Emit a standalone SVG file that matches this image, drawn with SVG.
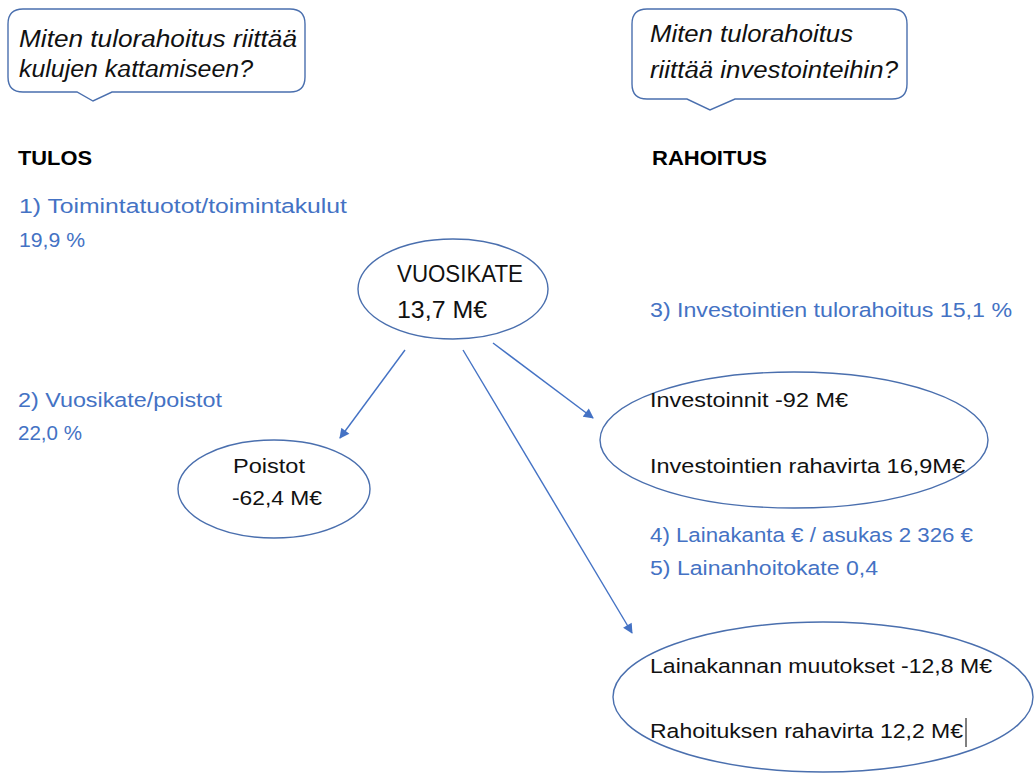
<svg xmlns="http://www.w3.org/2000/svg" width="1034" height="773" viewBox="0 0 1034 773">
<style>
text{font-family:"Liberation Sans",Arial,sans-serif;}
.c{font-size:23px;font-style:italic;fill:#111;}
.h{font-size:21px;font-weight:bold;fill:#000;}
.b{font-size:20.5px;fill:#4472C4;}
.t{font-size:20.5px;fill:#111;}
.big{font-size:24px;fill:#111;}
.sh{fill:#fff;stroke:#4a6fae;stroke-width:1.4;}
.ar{stroke:#4472C4;stroke-width:1.4;fill:none;marker-end:url(#ah);}
</style>
<defs>
<marker id="ah" viewBox="0 0 10 10" refX="9" refY="5" markerWidth="11" markerHeight="10" markerUnits="userSpaceOnUse" orient="auto">
<path d="M0,0 L10,5 L0,10 Z" fill="#4472C4"/>
</marker>
</defs>
<rect width="1034" height="773" fill="#fff"/>
<g id="callout1">
<path class="sh" d="M23,9 H290 Q305,9 305,24 V77 Q305,92 290,92 H112 L93,101 L77,92 H23 Q8,92 8,77 V24 Q8,9 23,9 Z"/>
<text class="c" x="19" y="47" textLength="278" lengthAdjust="spacingAndGlyphs">Miten tulorahoitus riittää</text>
<text class="c" x="19" y="77" textLength="234" lengthAdjust="spacingAndGlyphs">kulujen kattamiseen?</text>
</g>
<g id="callout2">
<path class="sh" d="M647,9 H892 Q907,9 907,24 V84 Q907,99 892,99 H735 L710,110 L687,99 H647 Q632,99 632,84 V24 Q632,9 647,9 Z"/>
<text class="c" x="650" y="42" textLength="203" lengthAdjust="spacingAndGlyphs">Miten tulorahoitus</text>
<text class="c" x="650" y="78" textLength="248" lengthAdjust="spacingAndGlyphs">riittää investointeihin?</text>
</g>
<g id="labels">
<text class="h" x="18" y="165" textLength="74" lengthAdjust="spacingAndGlyphs">TULOS</text>
<text class="h" x="652" y="165" textLength="115" lengthAdjust="spacingAndGlyphs">RAHOITUS</text>
<text class="b" x="19" y="213" textLength="328" lengthAdjust="spacingAndGlyphs">1) Toimintatuotot/toimintakulut</text>
<text class="b" x="19" y="247" textLength="66" lengthAdjust="spacingAndGlyphs">19,9 %</text>
<text class="b" x="18" y="407" textLength="204" lengthAdjust="spacingAndGlyphs">2) Vuosikate/poistot</text>
<text class="b" x="18" y="440" textLength="64" lengthAdjust="spacingAndGlyphs">22,0 %</text>
<text class="b" x="650" y="317" textLength="362" lengthAdjust="spacingAndGlyphs">3) Investointien tulorahoitus 15,1 %</text>
<text class="b" x="650" y="542" textLength="323" lengthAdjust="spacingAndGlyphs">4) Lainakanta € / asukas 2 326 €</text>
<text class="b" x="650" y="575" textLength="228" lengthAdjust="spacingAndGlyphs">5) Lainanhoitokate 0,4</text>
</g>
<g id="connectors">
<line class="ar" x1="405" y1="350" x2="340" y2="438"/>
<line class="ar" x1="463" y1="350" x2="632" y2="633"/>
<line class="ar" x1="493" y1="343" x2="593" y2="418"/>
</g>
<g id="vuosikate">
<ellipse class="sh" cx="453" cy="289" rx="95" ry="50"/>
<text class="big" x="397" y="282" textLength="126" lengthAdjust="spacingAndGlyphs">VUOSIKATE</text>
<text class="big" x="397" y="318" textLength="90" lengthAdjust="spacingAndGlyphs">13,7 M€</text>
</g>
<g id="poistot">
<ellipse class="sh" cx="274" cy="489" rx="96" ry="49"/>
<text class="t" x="233" y="473" textLength="72" lengthAdjust="spacingAndGlyphs">Poistot</text>
<text class="t" x="232" y="505" textLength="90" lengthAdjust="spacingAndGlyphs">-62,4 M€</text>
</g>
<g id="investoinnit">
<ellipse class="sh" cx="794" cy="440" rx="194" ry="68"/>
<text class="t" x="650" y="407" textLength="198" lengthAdjust="spacingAndGlyphs">Investoinnit -92 M€</text>
<text class="t" x="650" y="473" textLength="315" lengthAdjust="spacingAndGlyphs">Investointien rahavirta 16,9M€</text>
</g>
<g id="lainakanta">
<ellipse class="sh" cx="823" cy="697" rx="210" ry="75"/>
<text class="t" x="650" y="673" textLength="342" lengthAdjust="spacingAndGlyphs">Lainakannan muutokset -12,8 M€</text>
<text class="t" x="650" y="738" textLength="313" lengthAdjust="spacingAndGlyphs">Rahoituksen rahavirta 12,2 M€</text>
<line x1="966" y1="718" x2="966" y2="747" stroke="#000" stroke-width="1"/>
</g>
</svg>
